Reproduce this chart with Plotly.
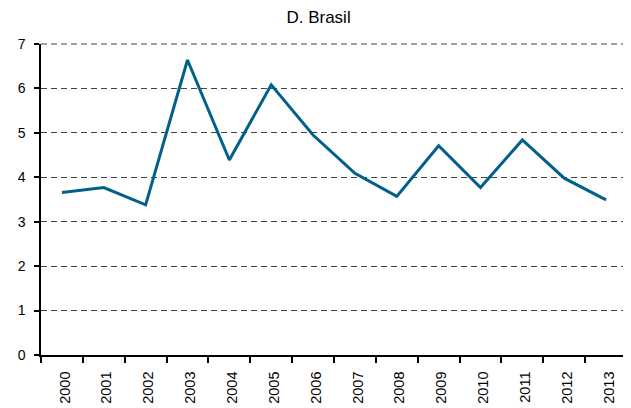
import plotly.graph_objects as go

years = ["2000", "2001", "2002", "2003", "2004", "2005", "2006",
         "2007", "2008", "2009", "2010", "2011", "2012", "2013"]
values = [3.66, 3.77, 3.38, 6.64, 4.39, 6.08, 4.95,
          4.09, 3.57, 4.71, 3.77, 4.84, 3.98, 3.49]
title_text = "D. Brasil"

fig = go.Figure()
fig.add_trace(go.Scatter(
    x=years, y=values, mode="lines",
    line=dict(color="#00608a", width=3),
    showlegend=False, hoverinfo="skip",
))

fig.update_layout(
    width=623, height=400,
    margin=dict(l=33, r=4, t=36, b=53),
    paper_bgcolor="white", plot_bgcolor="white",
    font=dict(family="Liberation Sans, Arial, sans-serif", color="black", size=13),
    title=dict(text=title_text, x=0.4985, xanchor="center", y=0.9775, yanchor="middle",
               font=dict(size=17, color="black")),
    shapes=[dict(type="line", xref="paper", yref="paper", x0=0, x1=1, y0=1, y1=1,
                 line=dict(color="#444444", width=1, dash="6px,4px"), layer="below")],
)
fig.update_xaxes(
    type="category", showgrid=False, showline=True, linecolor="black", linewidth=1.5,
    ticks="outside", tickson="boundaries", ticklen=6, tickcolor="black", tickwidth=1.5,
    tickangle=-90, tickfont=dict(size=14.5), range=[-0.5, 13.5],
    ticklabelstandoff=9, ticklabelshift=3,
)
fig.update_yaxes(
    range=[0, 7], dtick=1, showline=True, linecolor="black", linewidth=1.5,
    ticks="outside", ticklen=5, tickcolor="black", tickwidth=1.5,
    showgrid=True, gridcolor="#444444", gridwidth=1, griddash="6px,4px",
    zeroline=False, tickfont=dict(size=14), ticklabelstandoff=6,
)

fig.write_html("out.html")
